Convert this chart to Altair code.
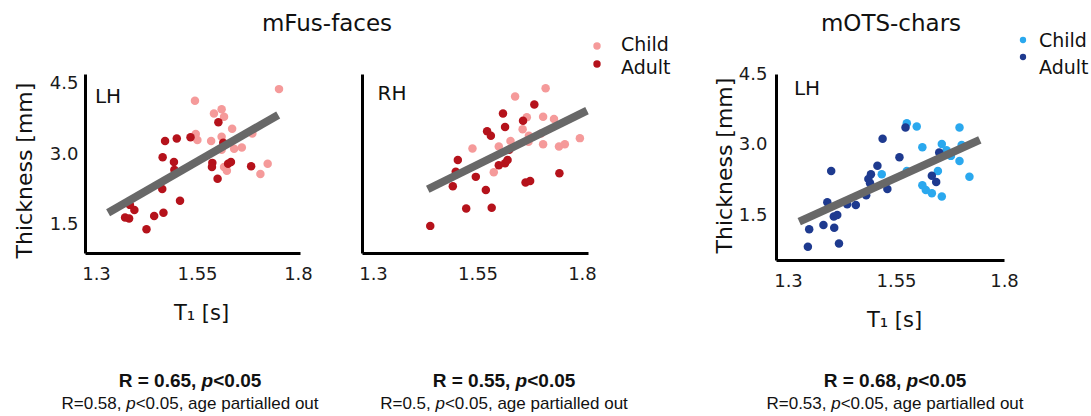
import altair as alt
import pandas as pd

FONT = "DejaVu Sans"
SFONT = "Liberation Sans"

# ---------------- data ----------------
x_ticks = [1.3, 1.55, 1.8]
y_ticks = [1.5, 3.0, 4.5]
panel_titles = ["mFus-faces", "mOTS-chars"]
hemis = ["LH", "RH", "LH"]
legend_labels = ["Child", "Adult"]
x_title = "T\u2081 [s]"
y_title = "Thickness [mm]"
r_main = ["0.65", "0.55", "0.68"]
r_partial = ["0.58", "0.5", "0.53"]

# mFus-faces LH
p1_child_x = [1.753, 1.545, 1.592, 1.611, 1.617, 1.547, 1.551, 1.585, 1.611, 1.637,
              1.642, 1.661, 1.687, 1.725, 1.707, 1.617, 1.624, 1.611]
p1_child_y = [4.39, 4.14, 3.87, 3.96, 3.80, 3.43, 3.30, 3.28, 3.37, 3.54,
              3.11, 3.14, 3.44, 2.79, 2.57, 2.72, 2.64, 3.09]
p1_adult_x = [1.603, 1.471, 1.500, 1.534, 1.465, 1.493, 1.494, 1.464, 1.508, 1.467,
              1.444, 1.425, 1.395, 1.384, 1.372, 1.382, 1.588, 1.587, 1.601, 1.627,
              1.634, 1.684, 1.615]
p1_adult_y = [3.68, 3.28, 3.33, 3.36, 2.93, 2.83, 2.66, 2.25, 2.00, 1.74,
              1.67, 1.39, 1.80, 1.91, 1.64, 1.62, 2.81, 2.72, 2.47, 2.79,
              2.83, 2.74, 3.24]
p1_fit_x = [1.330, 1.751]
p1_fit_y = [1.742, 3.836]

# mFus-faces RH
p2_child_x = [1.713, 1.640, 1.668, 1.707, 1.733, 1.658, 1.673, 1.702, 1.629, 1.601,
              1.538, 1.707, 1.745, 1.759, 1.795, 1.589, 1.672]
p2_child_y = [4.41, 4.23, 3.79, 3.80, 3.75, 3.53, 3.39, 3.44, 3.28, 3.16,
              3.12, 3.21, 3.16, 3.21, 3.34, 2.61, 3.26]
p2_adult_x = [1.686, 1.611, 1.659, 1.616, 1.573, 1.582, 1.503, 1.498, 1.546, 1.491,
              1.570, 1.523, 1.584, 1.437, 1.601, 1.616, 1.622, 1.665, 1.676, 1.746,
              1.626]
p2_adult_y = [4.06, 3.87, 3.71, 3.58, 3.49, 3.39, 2.87, 2.62, 2.51, 2.31,
              2.23, 1.83, 1.85, 1.46, 2.76, 2.80, 2.87, 2.39, 2.42, 2.59,
              3.09]
p2_fit_x = [1.431, 1.812]
p2_fit_y = [2.244, 3.93]

# mOTS-chars LH
p3_child_x = [1.575, 1.598, 1.697, 1.611, 1.656, 1.702, 1.667, 1.677, 1.697, 1.720,
              1.647, 1.517, 1.575, 1.611, 1.619, 1.633, 1.656]
p3_child_y = [3.46, 3.39, 3.37, 2.95, 3.02, 3.00, 2.89, 2.77, 2.66, 2.33,
              2.45, 2.38, 2.45, 2.15, 2.05, 1.98, 1.91]
p3_adult_x = [1.572, 1.519, 1.558, 1.650, 1.507, 1.492, 1.486, 1.490, 1.530, 1.481,
              1.400, 1.633, 1.643, 1.391, 1.437, 1.457, 1.406, 1.414, 1.407, 1.382,
              1.349, 1.418, 1.346]
p3_adult_y = [3.37, 3.13, 2.74, 2.84, 2.56, 2.38, 2.28, 2.19, 2.07, 1.94,
              2.45, 2.35, 2.22, 1.79, 1.75, 1.73, 1.49, 1.52, 1.25, 1.31,
              1.22, 0.92, 0.85]
p3_fit_x = [1.326, 1.744]
p3_fit_y = [1.38, 3.11]

RED_CHILD, RED_ADULT = "#f59a9a", "#b5121b"
BLUE_CHILD, BLUE_ADULT = "#2aa8ee", "#1e3a8f"
LINE_GREY = "#686868"
INK = "#111111"

ONE = pd.DataFrame({"k": [0]})


def pts(xs, ys):
    return pd.DataFrame({"t1": xs, "thick": ys})


def text(s, x, y, size, font=FONT, weight="normal", style="normal",
         align="center", baseline="middle", color=INK):
    return alt.Chart(ONE).mark_text(
        text=s, font=font, fontSize=size, fontWeight=weight, fontStyle=style,
        align=align, baseline=baseline, color=color,
    ).encode(x=alt.value(x), y=alt.value(y))


def dot(x, y, color, size=55):
    return alt.Chart(ONE).mark_circle(color=color, opacity=1, size=size).encode(
        x=alt.value(x), y=alt.value(y))


def xaxis(offset, title=None, title_x=None):
    kw = dict(values=x_ticks, format=".2~f", orient="bottom", offset=offset,
              grid=False, ticks=False, tickSize=0, domainColor="black",
              domainWidth=3, labelFont=FONT, labelFontSize=18,
              labelColor="#1a1a1a", labelPadding=21, labelBaseline="middle",
              labelFlush=False)
    if title:
        kw.update(title=title, titleX=title_x, titleY=60, titleFont=FONT,
                  titleFontSize=21, titleFontWeight="normal", titleColor=INK,
                  titleBaseline="middle", titleAlign="center", titleAngle=0)
    else:
        kw["title"] = None
    return alt.Axis(**kw)


def yaxis(offset, labels=True, title=None, title_x=None, title_y=None, pad=7):
    kw = dict(values=y_ticks, format=".1f", orient="left", offset=offset,
              grid=False, ticks=False, tickSize=0, domainColor="black",
              domainWidth=3, labels=labels, labelFont=FONT, labelFontSize=18,
              labelColor="#1a1a1a", labelPadding=pad, labelBaseline="middle",
              labelFlush=False)
    if title:
        kw.update(title=title, titleX=title_x, titleY=title_y, titleFont=FONT,
                  titleFontSize=22, titleFontWeight="normal", titleColor=INK,
                  titleBaseline="middle", titleAlign="center", titleAngle=270)
    else:
        kw["title"] = None
    return alt.Axis(**kw)


def panel(cx, cy, ax, ay, fx, fy, xr, yr, xd, yd, c_child, c_adult, x_ax, y_ax):
    X = alt.X("t1:Q", scale=alt.Scale(domain=xd, range=xr, nice=False, zero=False), axis=x_ax)
    Y = alt.Y("thick:Q", scale=alt.Scale(domain=yd, range=yr, nice=False, zero=False), axis=y_ax)
    child = alt.Chart(pts(cx, cy)).mark_circle(size=72, opacity=1, color=c_child).encode(x=X, y=Y)
    adult = alt.Chart(pts(ax, ay)).mark_circle(size=72, opacity=1, color=c_adult).encode(x=X, y=Y)
    fit = alt.Chart(pts(fx, fy)).mark_line(color=LINE_GREY, strokeWidth=8,
                                           strokeCap="butt").encode(x=X, y=Y)
    return alt.layer(child, adult, fit)


p1 = panel(p1_child_x, p1_child_y, p1_adult_x, p1_adult_y, p1_fit_x, p1_fit_y,
           [85, 300], [253, 74], [1.2728, 1.805], [0.879, 4.714],
           RED_CHILD, RED_ADULT,
           xaxis(-163, x_title, 201),
           yaxis(-85, True, y_title, -61, 170, 7))
p2 = panel(p2_child_x, p2_child_y, p2_adult_x, p2_adult_y, p2_fit_x, p2_fit_y,
           [362, 588], [253, 74], [1.2737, 1.8144], [0.879, 4.714],
           RED_CHILD, RED_ADULT,
           xaxis(-163),
           yaxis(-362, False))
p3 = panel(p3_child_x, p3_child_y, p3_adult_x, p3_adult_y, p3_fit_x, p3_fit_y,
           [776, 1004], [260, 74], [1.2722, 1.8], [0.570, 4.5],
           BLUE_CHILD, BLUE_ADULT,
           xaxis(-156, x_title, 894),
           yaxis(-776, True, y_title, -52, 165, 9))

# ---- stat lines with italic p ----
REG = {"R": .722, "=": .584, ".": .278, ",": .278, " ": .278, "p": .556, "<": .584,
       "a": .556, "g": .556, "e": .556, "r": .333, "t": .278, "i": .222, "l": .222,
       "d": .556, "o": .556, "u": .556}
BOLD = {"R": .722, "=": .584, ".": .278, ",": .278, " ": .278, "p": .611, "<": .584}


def wid(s, table, size):
    return sum(table.get(ch, .556) for ch in s) * size


def stat_line(prefix, rest, cx, y, size, bold):
    table = BOLD if bold else REG
    weight = "bold" if bold else "normal"
    w_pre = wid(prefix + " ", table, size)
    w_p = wid("p", table, size)
    total = w_pre + w_p + wid(rest, table, size)
    left = cx - total / 2
    return [
        text(prefix, left, y, size, font=SFONT, weight=weight, align="left"),
        text("p", left + w_pre, y, size, font=SFONT, weight=weight, style="italic", align="left"),
        text(rest, left + w_pre + w_p, y, size, font=SFONT, weight=weight, align="left"),
    ]


centers = [190, 504, 895]
extras = [
    text(panel_titles[0], 327, 24, 23),
    text(panel_titles[1], 891, 24, 23),
    text(hemis[0], 108, 97, 20),
    text(hemis[1], 392, 94, 20),
    text(hemis[2], 807, 89, 20),
    dot(597, 46, RED_CHILD), dot(597, 64, RED_ADULT),
    text(legend_labels[0], 621, 45, 19, align="left"),
    text(legend_labels[1], 621, 68, 19, align="left"),
    dot(1023, 40, BLUE_CHILD, 40), dot(1023, 57, BLUE_ADULT, 40),
    text(legend_labels[0], 1039, 41, 19, align="left"),
    text(legend_labels[1], 1039, 68, 19, align="left"),
]
for i, cx in enumerate(centers):
    extras += stat_line(f"R = {r_main[i]},", "<0.05", cx, 381, 19, True)
    extras += stat_line(f"R={r_partial[i]},", "<0.05, age partialled out", cx, 404, 17, False)

chart = alt.layer(p1, p2, p3, *extras).resolve_scale(
    x="independent", y="independent"
).resolve_axis(
    x="independent", y="independent"
).properties(
    width=1091, height=416, padding=0,
    autosize=alt.AutoSizeParams(type="none"),
    background="white",
).configure_view(stroke=None)

chart.save("out.html", embed_options={"renderer": "svg", "actions": False})
